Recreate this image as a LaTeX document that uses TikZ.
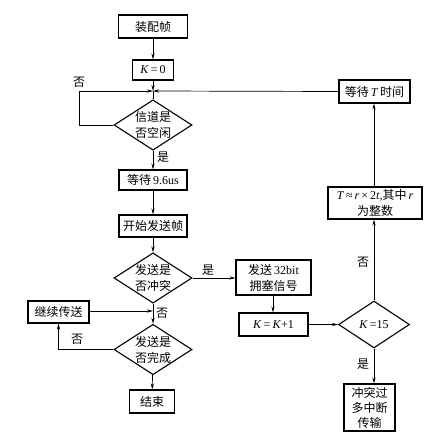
\documentclass[tikz,border=0pt]{standalone}
\usepackage{fontspec}
\setmainfont{Liberation Serif}
\newfontfamily\cjk{Noto Sans CJK SC}
\usetikzlibrary{shapes.geometric,arrows.meta}
\begin{document}
\begin{tikzpicture}[x=1pt,y=-1pt,
  every node/.style={font=\fontsize{12}{16}\selectfont},
  box/.style={draw, line width=1.1pt, inner sep=0pt, align=center},
  dia/.style={diamond, draw, line width=1.1pt, inner sep=0pt, aspect=1.55, align=center, minimum width=72pt, minimum height=47pt},
  arr/.style={line width=0.7pt, -{Stealth[length=6pt,width=3.2pt]}},
  ln/.style={line width=0.7pt},
  lab/.style={inner sep=0pt}]
\useasboundingbox (0,0) rectangle (430,438);
\node[box, minimum width=69pt, minimum height=23pt] (n1) at (153,26.5) {\cjk 装配帧};
\node[box, minimum width=41pt, minimum height=20pt] (n2) at (153,70) {\textit{K}\,=\,0};
\node[dia] (d1) at (153,125) {\cjk 信道是\\\cjk 否空闲};
\node[box, minimum width=68pt, minimum height=20pt] (n3) at (153,180) {{\cjk 等待}\,9.6us};
\node[box, minimum width=68pt, minimum height=22pt] (n4) at (153,226) {\cjk 开始发送帧};
\node[dia] (d2) at (153,278) {\cjk 发送是\\\cjk 否冲突};
\node[box, minimum width=61pt, minimum height=22pt] (n5) at (58.5,312) {\cjk 继续传送};
\node[dia] (d3) at (153,349.5) {\cjk 发送是\\\cjk 否完成};
\node[box, minimum width=45pt, minimum height=23pt] (n6) at (152,401.5) {\cjk 结束};
\node[box, minimum width=75pt, minimum height=35pt] (n7) at (273.5,277.5) {{\cjk 发送}\,32bit\\\cjk 拥塞信号};
\node[box, minimum width=69pt, minimum height=23pt] (n8) at (273.5,324.5) {\textit{K}\,=\,\textit{K}+1};
\node[dia, minimum width=71pt] (d4) at (374,324.5) {\textit{K}\,=15};
\node[box, minimum width=51pt, minimum height=47pt, font=\fontsize{12}{15}\selectfont] (n9) at (369.5,407.5) {\cjk 冲突过\\\cjk 多中断\\\cjk 传输};
\node[box, minimum width=94pt, minimum height=32pt] (n10) at (375,203) {\textit{T}\,≈\,\textit{r}\,×\,2\textit{t},{\cjk 其中}\,\textit{r}\\\cjk 为整数};
\node[box, minimum width=71pt, minimum height=23pt] (n11) at (374.5,91.5) {{\cjk 等待}\,\textit{T}\,{\cjk 时间}};
% coordinates
\coordinate (m) at (153,91);
\coordinate (lc) at (79,91);
\coordinate (m2) at (153,311);
% connectors
\draw[arr] (n1) -- (n2);
\draw[arr] (n2) -- (m);
\draw[ln] (m) -- (d1.north);
\draw[arr] (d1.west) -| (lc) -- (m);
\draw[arr] (n11.west) -- (m);
\draw[arr] (d1) -- (n3);
\draw[arr] (n3) -- (n4);
\draw[arr] (n4) -- (d2);
\draw[arr] (d2) -- (d3);
\draw[arr] (d2.east) -- (d2.east -| n7.west);
\draw[arr] (n5.east |- m2) -- (m2);
\draw[arr] (d3.west) -| (n5.south);
\draw[arr] (d3) -- (n6);
\draw[arr] (n7.south -| 273,0) -- (n8.north -| 273,0);
\draw[arr] (n8) -- (d4);
\draw[arr] (d4.north) -- (d4.north |- n10.south);
\draw[arr] (d4.south) -- (d4.south |- n9.north);
\draw[arr] (n10.north -| d4.north) -- (n11.south -| d4.north);
% labels
\node[lab] (l1) at (79,82) {\cjk 否};
\node[lab] (l2) at (163,157) {\cjk 是};
\node[lab] (l3) at (208,270) {\cjk 是};
\node[lab] (l4) at (162,313) {\cjk 否};
\node[lab] (l5) at (77,339) {\cjk 否};
\node[lab] (l6) at (363,262) {\cjk 否};
\node[lab] (l7) at (363,364) {\cjk 是};
\end{tikzpicture}
\end{document}
